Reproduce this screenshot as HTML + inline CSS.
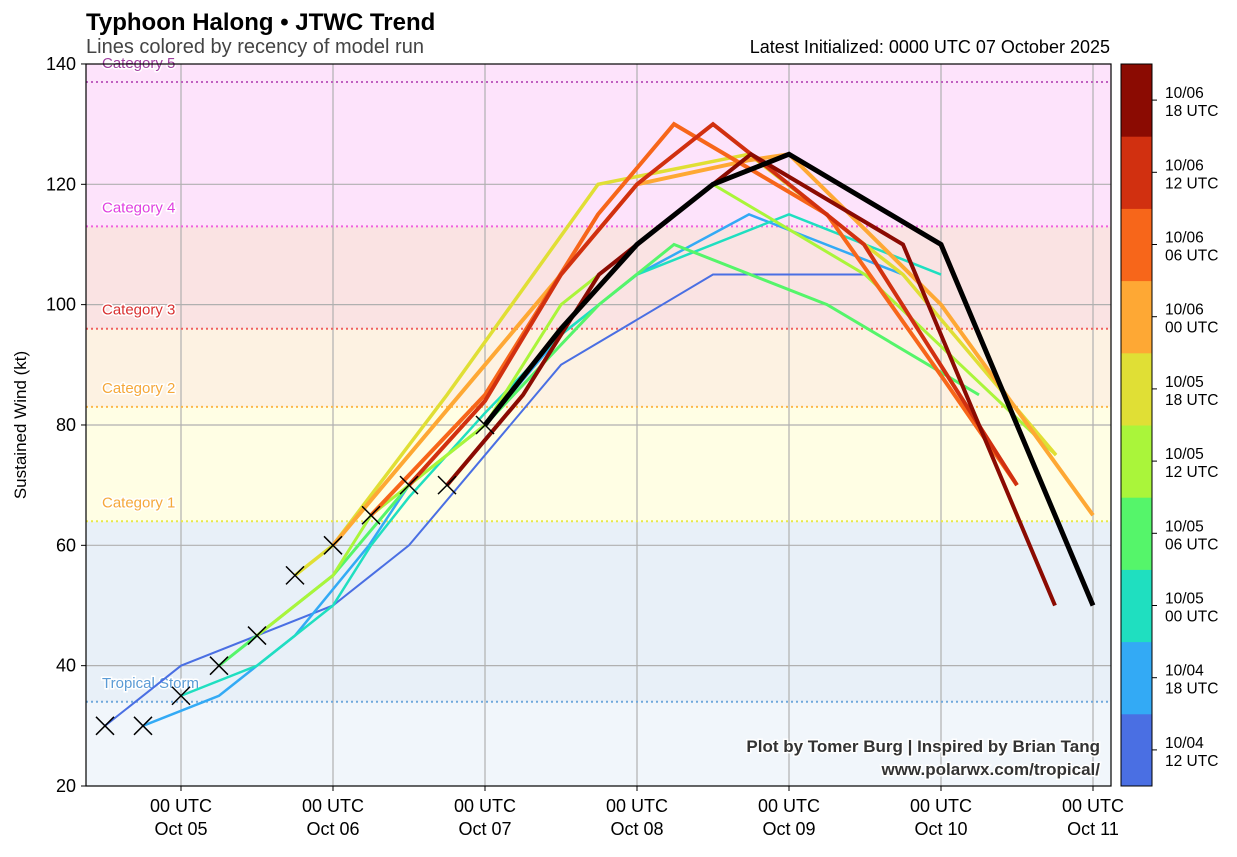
<!DOCTYPE html>
<html><head><meta charset="utf-8"><style>
body{margin:0;background:#fff;width:1237px;height:852px;overflow:hidden;font-family:"Liberation Sans",sans-serif}
</style></head><body>
<svg id="s" width="1237" height="852" xmlns="http://www.w3.org/2000/svg" font-family="Liberation Sans, sans-serif">
<text x="86" y="30" font-size="24" font-weight="bold">Typhoon Halong • JTWC Trend</text>
<text x="86" y="53" font-size="20" fill="#444">Lines colored by recency of model run</text>
<text x="1110" y="53" font-size="18" text-anchor="end">Latest Initialized: 0000 UTC 07 October 2025</text>
<text transform="translate(26,425) rotate(-90)" font-size="17" text-anchor="middle">Sustained Wind (kt)</text>
<g id="g"></g>
</svg>
<script>
const NS="http://www.w3.org/2000/svg",g=document.getElementById('g');
const Y=v=>786-(v-20)*6.017;
function el(t,a,txt){const e=document.createElementNS(NS,t);for(const k in a)e.setAttribute(k,a[k]);if(txt!==undefined)e.textContent=txt;g.appendChild(e);return e;}
const bands=[[20,34,'#f1f6fb'],[34,64,'#e8f0f8'],[64,83,'#fffee4'],[83,96,'#fdf2e2'],[96,113,'#fae3e3'],[113,140,'#fde3fb']];
bands.forEach(b=>el('rect',{x:86,y:Y(b[1]),width:1025,height:Y(b[0])-Y(b[1]),fill:b[2]}));
for(let v=40;v<140;v+=20)el('line',{x1:86,x2:1111,y1:Y(v),y2:Y(v),stroke:'#b0b0b0','stroke-width':1.2});
const xs=[181,333,485,637,789,941,1093],days=['05','06','07','08','09','10','11'];
xs.forEach((x,i)=>{el('line',{x1:x,x2:x,y1:64,y2:786,stroke:'#b0b0b0','stroke-width':1.2});
el('line',{x1:x,x2:x,y1:786,y2:791,stroke:'#000'});
el('text',{x:x,y:812,'font-size':18,'text-anchor':'middle'},'00 UTC');
el('text',{x:x,y:835,'font-size':18,'text-anchor':'middle'},'Oct '+days[i]);});
const cats=[[34,'#6fa8dc','Tropical Storm'],[64,'#e8e84a','Category 1'],[83,'#fdb94a','Category 2'],[96,'#f06060','Category 3'],[113,'#f060e0','Category 4'],[137,'#c060c0','Category 5']];
const ccol=['#5b9bd5','#f5a83a','#f5a83a','#d93030','#e040e0','#a040a0'];
cats.forEach((c,i)=>{el('line',{x1:86,x2:1111,y1:Y(c[0]),y2:Y(c[0]),stroke:c[1],'stroke-width':2,'stroke-dasharray':'2,3'});
el('text',{x:102,y:Y(c[0])-14,'font-size':15,fill:ccol[i],stroke:'#fff','stroke-width':3,'paint-order':'stroke'},c[2]);});
for(let v=20;v<=140;v+=20){el('line',{x1:81,x2:86,y1:Y(v),y2:Y(v),stroke:'#000'});el('text',{x:76,y:Y(v)+6,'font-size':18,'text-anchor':'end'},v);}
const L=[
['#4a6fe3',2,[[105,30],[181,40],[333,50],[409,60],[485,75],[561,90],[713,105],[865,105]]],
['#33aaf5',2.5,[[143,30],[219,35],[295,45],[369,60],[409,70],[485,80],[561,95],[637,105],[749,115],[903,105]]],
['#1fdfc0',2.5,[[181,35],[257,40],[333,50],[371,60],[409,68],[485,82],[561,95],[637,105],[789,115],[941,105]]],
['#55f56a',3,[[219,40],[257,45],[333,55],[409,70],[485,80],[599,100],[674,110],[827,100],[979,85]]],
['#aaf53a',3,[[257,45],[333,55],[371,65],[409,70],[485,80],[561,100],[637,110],[713,120],[865,105],[1056,75]]],
['#e0df35',3.5,[[295,55],[333,60],[447,85],[598,120],[749,125],[903,105],[1056,75]]],
['#fea834',4,[[333,60],[485,90],[637,120],[749,124],[789,125],[941,100],[1093,65]]],
['#f7661a',4,[[371,65],[485,85],[598,115],[674,130],[827,115],[942,88],[1017,70]]],
['#d13010',4,[[409,70],[485,84],[561,105],[637,120],[713,130],[789,120],[864,110],[1017,70]]],
['#8b0b02',4,[[447,70],[523,85],[599,105],[637,110],[751,125],[903,110],[1055,50]]],
['#000',5,[[485,80],[561,96],[637,110],[713,120],[789,125],[941,110],[1093,50]]]];
L.forEach(l=>el('polyline',{points:l[2].map(p=>p[0]+','+Y(p[1])).join(' '),fill:'none',stroke:l[0],'stroke-width':l[1],'stroke-linejoin':'miter'}));
[[105,30],[143,30],[181,35],[219,40],[257,45],[295,55],[333,60],[371,65],[409,70],[447,70],[485,80]].forEach(p=>{const x=p[0],y=Y(p[1]);
el('path',{d:`M${x-9},${y-9}L${x+9},${y+9}M${x-9},${y+9}L${x+9},${y-9}`,stroke:'#000','stroke-width':1.5});});
el('rect',{x:86,y:64,width:1025,height:722,fill:'none',stroke:'#000','stroke-width':1.2});
el('text',{x:1100,y:752,'font-size':17,'font-weight':'bold','text-anchor':'end',fill:'#333',stroke:'#fff','stroke-width':3,'paint-order':'stroke'},'Plot by Tomer Burg | Inspired by Brian Tang');
el('text',{x:1100,y:775,'font-size':17,'font-weight':'bold','text-anchor':'end',fill:'#333',stroke:'#fff','stroke-width':3,'paint-order':'stroke'},'www.polarwx.com/tropical/');
const cb=['#4a6fe3','#33aaf5','#1fdfc0','#55f56a','#aaf53a','#e0df35','#fea834','#f7661a','#d13010','#8b0b02'];
const labs=[['10/04','12 UTC'],['10/04','18 UTC'],['10/05','00 UTC'],['10/05','06 UTC'],['10/05','12 UTC'],['10/05','18 UTC'],['10/06','00 UTC'],['10/06','06 UTC'],['10/06','12 UTC'],['10/06','18 UTC']];
const h=722/10;
cb.forEach((c,i)=>{const y=786-(i+1)*h;el('rect',{x:1121,y:y,width:31,height:h+0.5,fill:c});
el('line',{x1:1152,x2:1157,y1:y+h/2,y2:y+h/2,stroke:'#000'});
el('text',{x:1165,y:y+h/2-2,'font-size':15.5},labs[i][0]);el('text',{x:1165,y:y+h/2+16,'font-size':15.5},labs[i][1]);});
el('rect',{x:1121,y:64,width:31,height:722,fill:'none',stroke:'#000'});
</script>
</body></html>
